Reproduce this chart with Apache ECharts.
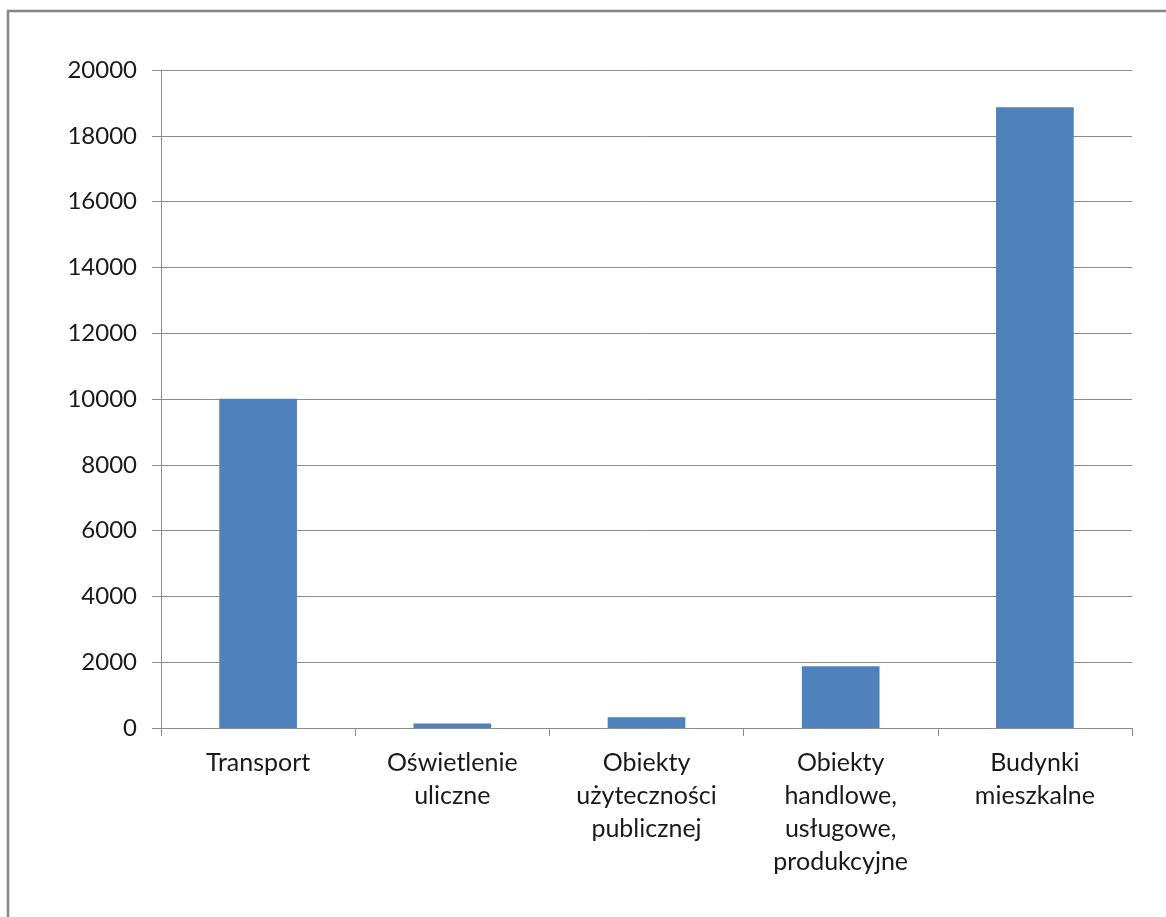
<!DOCTYPE html>
<html>
<head>
<meta charset="utf-8">
<script src="https://cdn.jsdelivr.net/npm/echarts@6/dist/echarts.min.js"></script>
<style>
  html, body { margin: 0; padding: 0; background: #ffffff; }
  #chart { width: 1166px; height: 917px; }
</style>
</head>
<body>
<div id="chart"></div>
<script>
// Sector names (x axis) and their values
const categories = [
  'Transport',
  'Oświetlenie\nuliczne',
  'Obiekty\nużyteczności\npublicznej',
  'Obiekty\nhandlowe,\nusługowe,\nprodukcyjne',
  'Budynki\nmieszkalne'
];
const values = [10010, 135, 330, 1880, 18870];

// Value axis range
const yMin = 0;
const yMax = 20000;
const yStep = 2000;

const chart = echarts.init(document.getElementById('chart'), null, { renderer: 'canvas' });

const font = 'Lato, "Open Sans", sans-serif';
const gray = '#8c8c8c';

chart.setOption({
  animation: false,
  backgroundColor: '#ffffff',
  graphic: [{
    type: 'rect',
    shape: { x: 8, y: 11, width: 1200, height: 950 },
    style: { fill: 'none', stroke: '#878787', lineWidth: 2.5 },
    silent: true
  }],
  grid: { left: 161, top: 70, right: 34, bottom: 189, containLabel: false },
  xAxis: {
    type: 'category',
    data: categories,
    boundaryGap: true,
    axisLine: { lineStyle: { color: gray, width: 1 } },
    axisTick: { show: true, length: 8, alignWithLabel: false, lineStyle: { color: gray } },
    axisLabel: {
      interval: 0,
      margin: 18,
      color: '#1a1a1a',
      fontFamily: font,
      fontSize: 25,
      lineHeight: 33,
      align: 'center',
      verticalAlign: 'top'
    },
    splitLine: { show: false }
  },
  yAxis: {
    type: 'value',
    min: yMin,
    max: yMax,
    interval: yStep,
    axisLine: { show: true, lineStyle: { color: gray, width: 1 } },
    axisTick: { show: true, length: 9, lineStyle: { color: gray } },
    axisLabel: {
      margin: 24,
      color: '#1a1a1a',
      fontFamily: font,
      fontSize: 24,
      formatter: (v) => String(v)
    },
    splitLine: { show: true, lineStyle: { color: gray, width: 1 } }
  },
  series: [{
    type: 'bar',
    data: values,
    barWidth: '40%',
    itemStyle: { color: '#4f81bd' }
  }]
});
</script>
</body>
</html>
